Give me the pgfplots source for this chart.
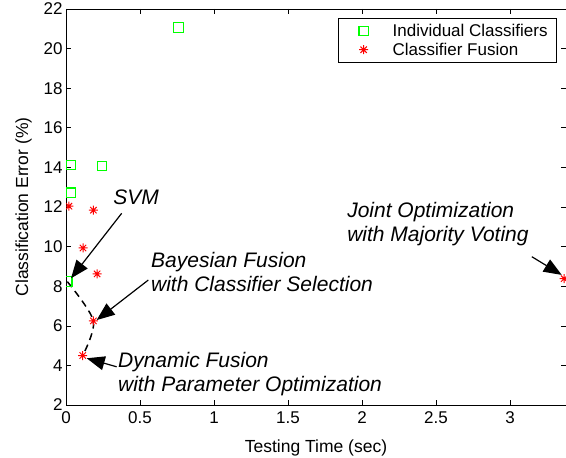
\documentclass[border=0pt]{standalone}
\usepackage{pgfplots}
\pgfplotsset{compat=1.18}
\usepackage{fontspec}
\setmainfont{Liberation Sans}
\usetikzlibrary{arrows.meta}

\definecolor{mgreen}{RGB}{0,255,0}
\definecolor{mred}{RGB}{255,0,0}

% matlab-like asterisk: plus and cross together
\pgfdeclareplotmark{mstar}{%
  \pgfpathmoveto{\pgfqpoint{-\pgfplotmarksize}{0pt}}%
  \pgfpathlineto{\pgfqpoint{\pgfplotmarksize}{0pt}}%
  \pgfpathmoveto{\pgfqpoint{0pt}{-\pgfplotmarksize}}%
  \pgfpathlineto{\pgfqpoint{0pt}{\pgfplotmarksize}}%
  \pgfpathmoveto{\pgfqpoint{-.7071\pgfplotmarksize}{-.7071\pgfplotmarksize}}%
  \pgfpathlineto{\pgfqpoint{.7071\pgfplotmarksize}{.7071\pgfplotmarksize}}%
  \pgfpathmoveto{\pgfqpoint{-.7071\pgfplotmarksize}{.7071\pgfplotmarksize}}%
  \pgfpathlineto{\pgfqpoint{.7071\pgfplotmarksize}{-.7071\pgfplotmarksize}}%
  \pgfusepathqstroke}

\pgfplotsset{mylegend/.style={legend image code/.code={%
  \path[draw=none, fill=none] (0pt,-4pt) (36pt,4pt);
  \draw[##1] plot coordinates {(18pt,0pt)};}}}

\begin{document}
\begin{tikzpicture}
\begin{axis}[
  scale only axis, width=500pt, height=396pt,
  xmin=0, xmax=3.378, ymin=2, ymax=22,
  xtick={0,0.5,...,3}, ytick={2,4,...,22},
  clip mode=individual, clip marker paths=true,
  axis line style={line width=0.8pt},
  major tick length=5pt, tick style={black, line width=0.6pt},
  /pgf/number format/assume math mode=true,
  tick label style={font=\fontsize{17}{19}\selectfont},
  xticklabel style={yshift=-3pt},
  label style={font=\fontsize{17.5}{20}\selectfont},
  xlabel style={yshift=-9.5pt},
  ylabel style={yshift=5pt},
  xlabel={Testing Time (sec)}, ylabel={Classification Error (\%)},
  legend cell align=left,
  legend style={at={(0.982,0.977)}, anchor=north east, draw=black, line width=0.8pt,
    fill=white, font=\fontsize{17}{20}\selectfont, inner xsep=7pt, inner ysep=3.5pt,
    row sep=1pt, /tikz/every odd column/.style={column sep=9pt}},
]
\coordinate (bl) at (rel axis cs:0,0);
\coordinate (tr) at (rel axis cs:1,1);

\addplot[forget plot, black, line width=1.5pt, dash pattern=on 7pt off 5pt, smooth, tension=0.5]
  coordinates {(0.009,8.23) (0.185,6.25) (0.113,4.5)};

\addplot[only marks, mylegend, color=mgreen, mark=square, mark size=4.75pt, mark options={line width=1.2pt}]
  coordinates {(0.76,21.07) (0.034,14.12) (0.243,14.07) (0.034,12.72) (0.009,8.23)};
\addlegendentry{Individual Classifiers}

\addplot[only marks, mylegend, color=mred, mark=mstar, mark size=4.5pt, mark options={line width=1pt}]
  coordinates {(0.02,12.04) (0.185,11.84) (0.115,9.93) (0.21,8.62) (0.185,6.25) (0.113,4.5) (3.365,8.38)};
\addlegendentry{Classifier Fusion}

\begin{scope}[line width=1.2pt, -{Triangle[length=18pt,width=14pt]}]
\draw (axis cs:0.376,11.68) -- (axis cs:0.034,8.4);
\draw (axis cs:0.556,8.31) -- (axis cs:0.207,6.29);
\draw (axis cs:0.342,3.93) -- (axis cs:0.14,4.36);
\draw (axis cs:3.147,9.49) -- (axis cs:3.349,8.57);
\end{scope}
\begin{scope}[every node/.style={font=\fontsize{21}{24}\selectfont\itshape, inner sep=0pt, align=left, anchor=west}]
\node at (axis cs:0.318,12.51) {SVM};
\node at (axis cs:0.574,8.72) {Bayesian Fusion\\with Classifier Selection};
\node at (axis cs:0.351,3.55) {Dynamic Fusion\\with Parameter Optimization};
\node at (axis cs:1.899,11.14) {Joint Optimization\\with Majority Voting};
\end{scope}
\end{axis}
\pgfresetboundingbox
\path ([shift={(-66pt,-52pt)}]bl) rectangle ([shift={(0pt,9pt)}]tr);
\end{tikzpicture}
\end{document}
